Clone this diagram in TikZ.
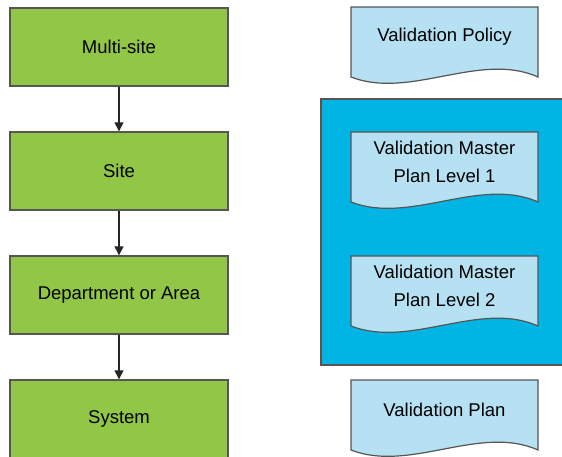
\documentclass[tikz,border=0pt]{standalone}
\usepackage{fontspec}
\setmainfont{Liberation Sans}
\usetikzlibrary{arrows.meta}
\definecolor{stagegreen}{RGB}{146,198,70}
\definecolor{paperblue}{RGB}{181,225,243}
\definecolor{vmpblue}{RGB}{0,180,228}
\definecolor{edgegray}{RGB}{85,85,85}
\tikzset{
  stage/.style={draw=edgegray, line width=1.4pt, fill=stagegreen, minimum width=218pt, minimum height=78pt, inner sep=0pt, font=\fontsize{18.5}{28}\selectfont},
  paper/.style={anchor=north, minimum width=187pt, minimum height=60pt, inner sep=0pt, align=center, font=\fontsize{18.5}{28}\selectfont},
  paperline/.style={draw=edgegray, line width=1.2pt, fill=paperblue},
  flow/.style={line width=1.3pt, draw=black!85, -{Triangle[width=9pt,length=9pt]}}
}
% document shape with a wavy foot, #2 is the middle of its top edge
\newcommand{\paperdoc}[3]{%
  \draw[paperline, shift={#2}] (-93.5,0) -- (-93.5,70) .. controls (-34.5,93) and (35.5,44) .. (93.5,70) -- (93.5,0) -- cycle;
  \node[paper] (#1) at #2 {#3};}
\begin{document}
\begin{tikzpicture}[x=1pt,y=-1pt]
  \useasboundingbox (0,0) rectangle (562,457);
  % scope of the master plans
  \filldraw[fill=vmpblue, draw=edgegray, line width=1.2pt] (321,99) rectangle (570,365);
  % left column
  \node[stage] (multi) at (119,47) {Multi-site};
  \node[stage] (site) at (119,171) {Site};
  \node[stage] (area) at (119,295) {Department or Area};
  \node[stage] (system) at (119,419) {System};
  \draw[flow] (multi) -- (site);
  \draw[flow] (site) -- (area);
  \draw[flow] (area) -- (system);
  % right column
  \paperdoc{policy}{(444.5,7)}{Validation Policy}
  \paperdoc{vmpone}{(444.5,132)}{Validation Master\\Plan Level 1}
  \paperdoc{vmptwo}{(444.5,256)}{Validation Master\\Plan Level 2}
  \paperdoc{plan}{(444.5,380)}{Validation Plan}
\end{tikzpicture}
\end{document}
